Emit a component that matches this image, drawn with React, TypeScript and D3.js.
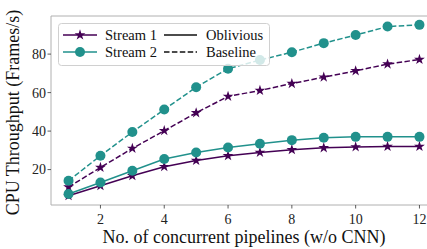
import * as d3 from 'd3';

const pipelines = [1, 2, 3, 4, 5, 6, 7, 8, 9, 10, 11, 12];
const stream1Oblivious = [6.4, 11.6, 16.8, 21.5, 24.7, 27.2, 28.9, 30.3, 31.3, 31.8, 32.0, 32.0];
const stream1Baseline = [10.9, 21.1, 31.0, 40.2, 49.5, 58.0, 61.1, 64.7, 68.0, 71.3, 74.8, 77.2];
const stream2Oblivious = [7.3, 13.3, 19.4, 25.5, 28.9, 31.5, 33.4, 35.3, 36.5, 37.0, 37.0, 37.0];
const stream2Baseline = [14.2, 27.2, 39.5, 51.2, 62.8, 72.4, 76.9, 81.0, 85.7, 89.9, 94.3, 95.2];
const xTicks = [2, 4, 6, 8, 10, 12];
const yTicks = [20, 40, 60, 80];

const PURPLE = '#440154';
const TEAL = '#21918c';
const FONT = '"Times New Roman", "Liberation Serif", serif';

const width = 427;
const height = 249;
const left = 51, top = 16, bottom = 205;

const x = d3.scaleLinear().domain([0.45, 12.55]).range([left, 437]);
const y = d3.scaleLinear().domain([1.6, 99.8]).range([bottom, top]);

const line = d3.line<number>()
  .x((d, i) => x(pipelines[i]))
  .y(d => y(d));

const starPath = d3.symbol().type(d3.symbolStar).size(36)() as string;

const series = [
  { values: stream1Oblivious, color: PURPLE, dashed: false, marker: 'star' },
  { values: stream1Baseline, color: PURPLE, dashed: true, marker: 'star' },
  { values: stream2Oblivious, color: TEAL, dashed: false, marker: 'circle' },
  { values: stream2Baseline, color: TEAL, dashed: true, marker: 'circle' },
];

const DASH = '5.5,2.4';

function Marker({ kind, cx, cy, color }: { kind: string; cx: number; cy: number; color: string }) {
  if (kind === 'star') return <path d={starPath} transform={`translate(${cx},${cy})`} fill={color} />;
  return <circle cx={cx} cy={cy} r={5} fill={color} />;
}

export default function App() {
  const spine = '#b0b0b0';
  const txt = { fontFamily: FONT };
  return (
    <svg width={width} height={height} viewBox={`0 0 ${width} ${height}`}
      style={{ position: 'absolute', left: 0, top: 0, background: 'white' }}>
      {/* spines */}
      <line x1={left} x2={left} y1={top} y2={bottom} stroke={spine} />
      <line x1={left} x2={width} y1={bottom} y2={bottom} stroke={spine} />
      <line x1={left} x2={width} y1={top} y2={top} stroke={spine} />

      {xTicks.map(t => (
        <g key={t}>
          <line x1={x(t)} x2={x(t)} y1={bottom} y2={bottom + 3.5} stroke="#333" strokeWidth={0.8} />
          <text x={x(t)} y={bottom + 19} textAnchor="middle" fontSize={14} fill="#222" style={txt}>{t}</text>
        </g>
      ))}
      {yTicks.map(t => (
        <g key={t}>
          <line x1={left - 3.5} x2={left} y1={y(t)} y2={y(t)} stroke="#333" strokeWidth={0.8} />
          <text x={left - 5} y={y(t)} dy="0.35em" textAnchor="end" fontSize={14} fill="#222" style={txt}>{t}</text>
        </g>
      ))}

      <text x={244} y={243} textAnchor="middle" fontSize={18} fill="#111" style={txt}>
        No. of concurrent pipelines (w/o CNN)
      </text>
      <text transform={`translate(19, ${(top + bottom) / 2 + 2}) rotate(-90)`} textAnchor="middle"
        fontSize={18} fill="#111" style={txt}>
        CPU Throughput (Frames/s)
      </text>

      {series.map((s, si) => (
        <g key={si}>
          <path d={line(s.values) as string} fill="none" stroke={s.color} strokeWidth={1.5}
            strokeDasharray={s.dashed ? DASH : undefined} />
          {s.values.map((v, i) => (
            <Marker key={i} kind={s.marker} cx={x(pipelines[i])} cy={y(v)} color={s.color} />
          ))}
        </g>
      ))}

      {/* legend */}
      <rect x={58.5} y={23.5} width={211} height={42} rx={3} fill="white" fillOpacity={0.8}
        stroke="#d0d0d0" />
      {[{ label: 'Stream 1', color: PURPLE, marker: 'star', y: 35 },
        { label: 'Stream 2', color: TEAL, marker: 'circle', y: 52 }].map(r => (
        <g key={r.label}>
          <line x1={63} x2={97} y1={r.y} y2={r.y} stroke={r.color} strokeWidth={1.5} />
          <Marker kind={r.marker} cx={80} cy={r.y} color={r.color} />
          <text x={105} y={r.y} dy="0.35em" fontSize={14.5} fill="#111" style={txt}>{r.label}</text>
        </g>
      ))}
      {[{ label: 'Oblivious', dashed: false, y: 35 },
        { label: 'Baseline', dashed: true, y: 52 }].map(r => (
        <g key={r.label}>
          <line x1={164} x2={197} y1={r.y} y2={r.y} stroke="#111" strokeWidth={1.5}
            strokeDasharray={r.dashed ? DASH : undefined} />
          <text x={206} y={r.y} dy="0.35em" fontSize={14.5} fill="#111" style={txt}>{r.label}</text>
        </g>
      ))}
    </svg>
  );
}
